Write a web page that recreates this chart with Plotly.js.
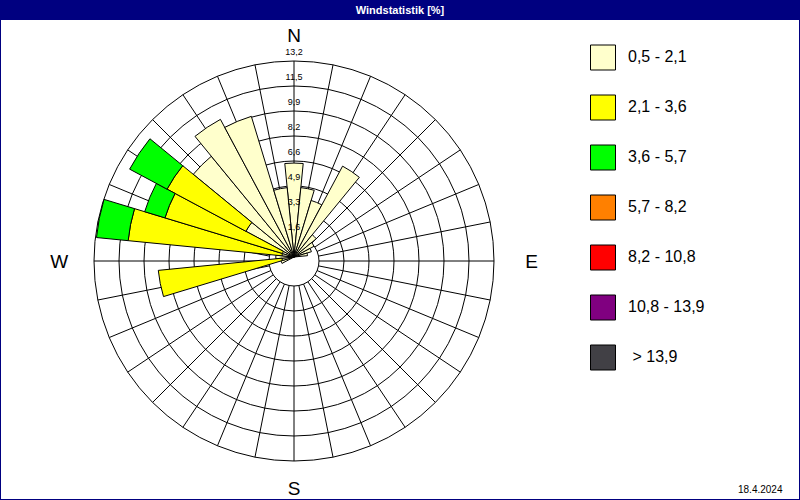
<!DOCTYPE html>
<html>
<head>
<meta charset="utf-8">
<script src="https://cdn.plot.ly/plotly-3.0.1.min.js"></script>
<style>
body { margin: 0; padding: 0; background: #ffffff; }
#myDiv { width: 800px; height: 500px; }
</style>
</head>
<body>
<div id="myDiv"></div>
<script>
// 32 wind directions (degrees, clockwise from north)
var dirs = [0, 11.25, 22.5, 33.75, 45, 56.25, 67.5, 78.75,
            90, 101.25, 112.5, 123.75, 135, 146.25, 157.5, 168.75,
            180, 191.25, 202.5, 213.75, 225, 236.25, 247.5, 258.75,
            270, 281.25, 292.5, 303.75, 315, 326.25, 337.5, 348.75];
// E and W get non-breaking spaces so they sit a bit further out
var dirNames = {0: 'N', 90: '\u00a0\u00a0\u00a0E', 180: 'S', 270: 'W\u00a0\u00a0'};

// frequency [%] per speed class
var cream  = [6.2, 4.6, 3.9, 6.8, 1.9, 1.5, 1.2, 0.9,
              0, 0, 0, 0, 0, 0, 0, 0,
              0, 0, 0, 0, 0, 0, 0.9, 0.8,
              1.2, 0.8, 0.8, 3.6, 8.6, 10.3, 9.7, 4.6];
var yellow = [0, 0, 0, 0, 0, 0, 0, 0,
              0, 0, 0, 0, 0, 0, 0, 0,
              0, 0, 0, 0, 0, 0, 0, 8.2,
              0, 10.2, 8.1, 5.9, 0, 0, 0, 0];
var green  = [0, 0, 0, 0, 0, 0, 0, 0,
              0, 0, 0, 0, 0, 0, 0, 0,
              0, 0, 0, 0, 0, 0, 0, 0,
              0, 2.1, 1.4, 2.8, 0, 0, 0, 0];

var classLabels = ['0,5 - 2,1', '2,1 - 3,6', '3,6 - 5,7', '5,7 - 8,2', '8,2 - 10,8', '10,8 - 13,9', ' > 13,9'];
var classColors = ['#ffffcc', '#ffff00', '#00ff00', '#ff8000', '#ff0000', '#800080', '#414045'];

var ringValues = [1.65, 3.3, 4.95, 6.6, 8.25, 9.9, 11.55, 13.2];
var ringLabels = ['1,6', '3,3', '4,9', '6,6', '8,2', '9,9', '11,5', '13,2'];

var dateText = '18.4.2024';

var FONT = 'Liberation Sans, Arial, sans-serif';

function nz(arr) {
    // zero segments are left out, otherwise they draw stray outlines
    return arr.map(function (v) { return v > 0 ? v : null; });
}

var data = [];

// invisible trace so the grid subplot gets drawn
data.push({
    type: 'scatterpolar',
    subplot: 'polar',
    mode: 'markers',
    r: [ringValues[0]],
    theta: [0],
    marker: { opacity: 0, size: 1 },
    showlegend: false,
    hoverinfo: 'skip'
});

var series = [cream, yellow, green];
series.forEach(function (vals, i) {
    data.push({
        type: 'barpolar',
        subplot: 'polar2',
        r: nz(vals),
        theta: dirs,
        name: classLabels[i],
        marker: { color: classColors[i], line: { color: '#000000', width: 1 } },
        showlegend: false,
        hoverinfo: 'skip'
    });
});

// ring labels along the north axis
data.push({
    type: 'scatterpolar',
    subplot: 'polar2',
    mode: 'text',
    r: ringValues,
    theta: ringValues.map(function () { return 0; }),
    text: ringLabels,
    textposition: 'top center',
    textfont: { family: FONT, size: 9, color: '#000000' },
    cliponaxis: false,
    showlegend: false,
    hoverinfo: 'skip'
});

// hand made legend: swatches + labels
data.push({
    type: 'scatter',
    mode: 'markers',
    x: classLabels.map(function () { return 0; }),
    y: classLabels.map(function (c, i) { return i; }),
    marker: { symbol: 'square', size: 25, color: classColors, line: { color: '#000000', width: 1 } },
    showlegend: false,
    hoverinfo: 'skip',
    cliponaxis: false
});
data.push({
    type: 'scatter',
    mode: 'text',
    x: classLabels.map(function () { return 1; }),
    y: classLabels.map(function (c, i) { return i; }),
    text: classLabels,
    textposition: 'middle right',
    textfont: { family: FONT, size: 16, color: '#000000' },
    showlegend: false,
    hoverinfo: 'skip',
    cliponaxis: false
});

var layout = {
    width: 800,
    height: 500,
    margin: { l: 0, r: 0, t: 0, b: 0, pad: 0 },
    paper_bgcolor: '#ffffff',
    plot_bgcolor: 'rgba(0,0,0,0)',
    font: { family: FONT, color: '#000000' },
    showlegend: false,
    title: {
        text: 'Windstatistik [%]',
        font: { family: FONT, size: 11, color: '#ffffff', weight: 'bold' },
        x: 0.5, xanchor: 'center',
        y: 0.98, yanchor: 'middle', yref: 'paper'
    },
    // grid subplot (hole keeps the spokes out of the calm circle)
    polar: {
        domain: { x: [94 / 800, 494 / 800], y: [39 / 500, 439 / 500] },
        hole: 0.125,
        bgcolor: 'rgba(0,0,0,0)',
        radialaxis: {
            range: [1.65, 13.2],
            tickmode: 'array',
            tickvals: ringValues,
            showticklabels: false,
            ticks: '',
            showline: false,
            gridcolor: '#000000',
            gridwidth: 1
        },
        angularaxis: {
            rotation: 90,
            direction: 'clockwise',
            tickmode: 'array',
            tickvals: dirs,
            ticktext: dirs.map(function (d) { return dirNames[d] || ''; }),
            ticks: 'outside',
            ticklen: 11,
            tickcolor: 'rgba(0,0,0,0)',
            tickfont: { family: FONT, size: 19, color: '#000000' },
            gridcolor: '#000000',
            gridwidth: 1,
            showline: true,
            linecolor: '#000000',
            linewidth: 1
        }
    },
    // bar subplot on top
    polar2: {
        domain: { x: [94 / 800, 494 / 800], y: [43 / 500, 443 / 500] },
        bgcolor: 'rgba(0,0,0,0)',
        barmode: 'stack',
        bargap: 0,
        radialaxis: { range: [0, 13.2], visible: false },
        angularaxis: { rotation: 90, direction: 'clockwise', visible: false }
    },
    xaxis: { domain: [0.7, 1], range: [-1.72, 7.88], visible: false, fixedrange: true },
    yaxis: { domain: [0, 1], range: [8.85, -1.15], visible: false, fixedrange: true },
    shapes: [
        { type: 'rect', xref: 'paper', yref: 'paper', x0: 0, x1: 1, y0: 1 - 20 / 500, y1: 1,
          fillcolor: '#000080', line: { width: 0 }, layer: 'below' },
        { type: 'rect', xref: 'paper', yref: 'paper', x0: 0, x1: 1, y0: 0, y1: 1,
          fillcolor: 'rgba(0,0,0,0)', line: { color: '#000080', width: 2 }, layer: 'above' }
    ],
    annotations: [
        { text: dateText, xref: 'paper', yref: 'paper', x: 785 / 800, y: 11 / 500,
          xanchor: 'right', yanchor: 'middle', showarrow: false,
          font: { family: FONT, size: 10, color: '#000000' } }
    ]
};

Plotly.newPlot('myDiv', data, layout, { staticPlot: true, displayModeBar: false });
</script>
</body>
</html>
